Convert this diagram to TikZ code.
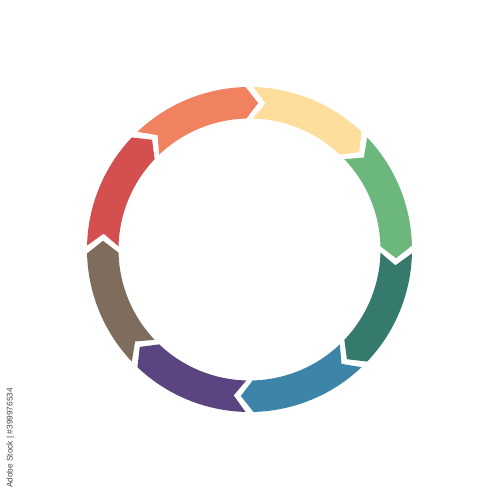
\documentclass[tikz,border=0pt]{standalone}
\usepackage{fontspec}
\newfontfamily\wmfont{Liberation Sans}
\definecolor{cOrange}{HTML}{F0825F}
\definecolor{cYellow}{HTML}{FEDE9C}
\definecolor{cGreen}{HTML}{6CB87C}
\definecolor{cTeal}{HTML}{357A6D}
\definecolor{cBlue}{HTML}{3C84A8}
\definecolor{cPurple}{HTML}{5A4580}
\definecolor{cBrown}{HTML}{7E6C5D}
\definecolor{cRed}{HTML}{D3504F}
\begin{document}
\begin{tikzpicture}[x=1pt,y=1pt,
  wmstyle/.style={rotate=90,text=black!72,inner sep=0pt,font=\wmfont\fontsize{8.3}{10}\selectfont}]
\fill[white] (0,0) rectangle (500,500);
\useasboundingbox (0,0) rectangle (500,500);
\def\Ro{162.5pt}
\def\Ri{131pt}
\def\Rm{146.75pt}
\def\e{1.4}
\def\t{4.8}
\begin{scope}[shift={(249.5,250.5)}]
\foreach \a/\c in {135/cOrange, 90/cYellow, 45/cGreen, 0/cTeal, -45/cBlue, -90/cPurple, -135/cBrown, 180/cRed}{
  \pgfmathsetmacro{\sA}{\a-\e}
  \pgfmathsetmacro{\sB}{\a-45+\e}
  \pgfmathsetmacro{\tip}{\a-45+\e-\t}
  \pgfmathsetmacro{\notch}{\a-\e-\t}
  \fill[\c] (\sA:\Ro) arc[start angle=\sA, end angle=\sB, radius=\Ro]
    -- (\tip:\Rm) -- (\sB:\Ri) arc[start angle=\sB, end angle=\sA, radius=\Ri]
    -- (\notch:\Rm) -- cycle;
}
\end{scope}
\node[wmstyle] (wm) at (10.5,62) {Adobe Stock | \#399976534};
\end{tikzpicture}
\end{document}
